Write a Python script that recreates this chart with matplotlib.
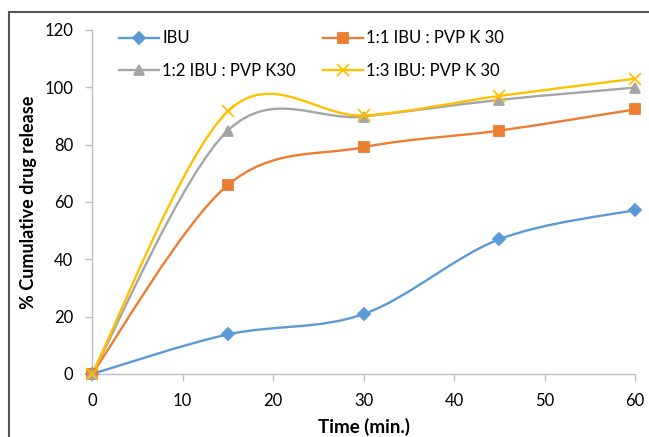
import matplotlib
matplotlib.use("Agg")
import matplotlib.pyplot as plt
from matplotlib.path import Path
from matplotlib.patches import PathPatch
from matplotlib.lines import Line2D
import numpy as np

plt.rcParams['font.family'] = ['Lato', 'DejaVu Sans']

time = [0, 15, 30, 45, 60]
ibu = [0, 13.8, 20.9, 47.0, 57.2]
r11 = [0, 65.9, 79.1, 84.9, 92.3]
r12 = [0, 84.9, 89.8, 95.6, 99.9]
r13 = [0, 91.6, 90.2, 97.0, 103.0]
labels = ["IBU", "1:1 IBU : PVP K 30", "1:2 IBU : PVP K30", "1:3 IBU: PVP K 30"]
colors = ["#5B9BD5", "#ED7D31", "#A5A5A5", "#FFC000"]
markers = ["D", "s", "^", "x"]
msizes = [6, 7, 7, 8]
xticks = [0, 10, 20, 30, 40, 50, 60]
yticks = [0, 20, 40, 60, 80, 100, 120]

W, H = 649, 437
fig = plt.figure(figsize=(W / 100, H / 100), dpi=100)
ax = fig.add_axes([92 / W, 1 - 374 / H, (635 - 92) / W, (374 - 30) / H])


def smooth_path(xs, ys):
    pts = np.column_stack([xs, ys]).astype(float)
    n = len(pts)
    verts = [pts[0]]
    codes = [Path.MOVETO]
    for i in range(n - 1):
        p0 = pts[i - 1] if i > 0 else pts[i]
        p1 = pts[i]
        p2 = pts[i + 1]
        p3 = pts[i + 2] if i + 2 < n else pts[i + 1]
        c1 = p1 + (p2 - p0) / 6.0
        c2 = p2 - (p3 - p1) / 6.0
        verts += [c1, c2, p2]
        codes += [Path.CURVE4] * 3
    return Path(verts, codes)


series = [ibu, r11, r12, r13]
handles = []
for ys, lab, c, m, ms in zip(series, labels, colors, markers, msizes):
    patch = PathPatch(smooth_path(time, ys), fill=False, edgecolor=c, lw=1.7,
                      transform=ax.transData, clip_on=False)
    ax.add_patch(patch)
    ax.plot(time, ys, linestyle='none', marker=m, color=c, ms=ms, mew=1.3,
            clip_on=False, zorder=3)
    handles.append(Line2D([], [], color=c, lw=1.7, marker=m, ms=ms, mew=1.3))

ax.set_xlim(0, 60)
ax.set_ylim(0, 120)
ax.set_xticks(xticks)
ax.set_yticks(yticks)
for s in ['top', 'right']:
    ax.spines[s].set_visible(False)
for s in ['left', 'bottom']:
    ax.spines[s].set_color('#BFBFBF')
    ax.spines[s].set_linewidth(1.0)
ax.tick_params(axis='both', colors='#BFBFBF', length=5, width=1.0,
               labelcolor='black', labelsize=12)
ax.tick_params(axis='y', pad=8.5)
ax.tick_params(axis='x', pad=8.5)
ax.set_xlabel("Time (min.)", fontsize=13.5, fontweight='bold', labelpad=6.5)
ax.set_ylabel("% Cumulative drug release", fontsize=13, fontweight='bold', labelpad=5.5)

order = [0, 2, 1, 3]
leg = ax.legend([handles[i] for i in order], [labels[i] for i in order],
                ncol=2, frameon=False, loc='upper left',
                bbox_to_anchor=(27 / (635 - 92), 0.999), fontsize=12,
                handlelength=2.4, handletextpad=0.2, columnspacing=1.6,
                labelspacing=1.0, borderaxespad=0.0, borderpad=0.0)

# outer frame (partial border of the original image)
fig.add_artist(Line2D([9 / W, 9 / W], [0, 1 - 12 / H], color='#555555', lw=1.5,
                      transform=fig.transFigure))
fig.add_artist(Line2D([9 / W, 1], [1 - 12 / H, 1 - 12 / H], color='#555555', lw=1.5,
                      transform=fig.transFigure))

fig.savefig("out.png", dpi=100)
